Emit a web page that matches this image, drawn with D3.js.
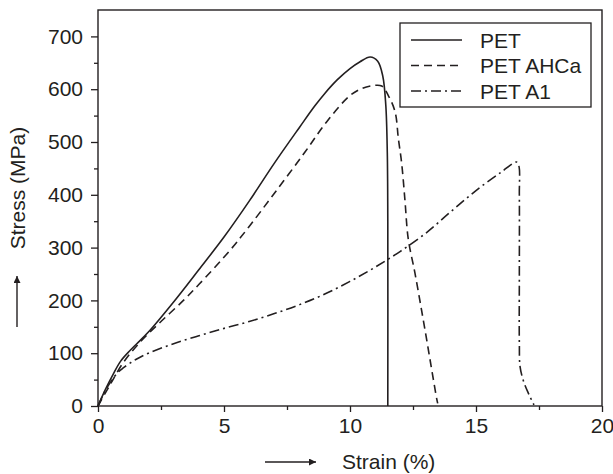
<!DOCTYPE html>
<meta charset="utf-8">

<head>
    <script src="https://d3js.org/d3.v7.min.js"></script>
    <style>
        body {
            margin: 0;
            background: white;
        }
        text {
            font-family: "Liberation Sans", Arial, sans-serif;
            fill: #231f20;
        }
    </style>
</head>

<body>
    <div id="chart"></div>

    <script>
        // data
        var petStrain = [0, 0.3, 0.61, 0.9, 1.27, 1.54, 2, 3, 4, 5, 6, 7, 8, 8.6, 9, 9.5, 10, 10.4, 10.8, 11.1, 11.3, 11.42, 11.48, 11.5, 11.5];
        var petStress = [0, 32, 61, 85, 105, 118, 140, 197, 258, 320, 388, 460, 528, 568, 592, 618, 639, 652, 661, 653, 625, 570, 480, 350, 0];

        var ahcaStrain = [0, 0.5, 1, 1.67, 2.5, 3.39, 4, 5.24, 6, 7, 8.2, 9.07, 10, 10.5, 10.93, 11.26, 11.52, 11.79, 11.92, 12.05, 12.18, 12.31, 12.58, 12.98, 13.44, 13.48];
        var ahcaStress = [0, 42, 82, 121, 160, 200, 230, 295, 340, 403, 480, 538, 588, 602, 607, 606, 588, 557, 506, 460, 390, 317, 251, 143, 14, 5];

        var a1Strain = [0, 0.3, 0.74, 1, 1.5, 2, 3, 4, 5, 6, 7, 8, 9, 10, 11, 12, 13, 14, 15, 16, 16.61, 16.7, 16.72, 16.72, 16.72, 16.75, 16.9, 17.1, 17.3];
        var a1Stress = [0, 30, 61, 72, 88, 100, 118, 133, 147, 160, 175, 192, 212, 236, 263, 293, 327, 368, 408, 443, 462, 455, 400, 250, 120, 74, 45, 22, 2];

        var seriesNames = ["PET", "PET AHCa", "PET A1"];
        var yTicks = [0, 100, 200, 300, 400, 500, 600, 700];
        var yMinorTicks = [50, 150, 250, 350, 450, 550, 650];
        var xTicks = [0, 5, 10, 15, 20];
        var xMinorTicks = [2.5, 7.5, 12.5, 17.5];

        var ink = "#231f20";
        var width = 613,
            height = 474;
        var margin = {
            top: 10,
            right: 11,
            bottom: 68,
            left: 98
        };
        var plotW = width - margin.left - margin.right,
            plotH = height - margin.top - margin.bottom;

        var svg = d3.select("#chart").append("svg")
            .attr("width", width)
            .attr("height", height);

        var g = svg.append("g")
            .attr("transform", "translate(" + margin.left + "," + margin.top + ")");

        var x = d3.scaleLinear().domain([0, 20]).range([0, plotW]);
        var y = d3.scaleLinear().domain([0, 750]).range([plotH, 0]);

        // axes with major + minor ticks
        function styleAxis(sel) {
            sel.select(".domain").remove();
            sel.selectAll("line").attr("stroke", ink).attr("stroke-width", 1.3);
            sel.selectAll("text").style("font-size", "21px").attr("fill", ink);
        }

        g.append("g")
            .attr("transform", "translate(0," + plotH + ")")
            .call(d3.axisBottom(x).tickValues(xTicks).tickSize(6).tickPadding(6).tickFormat(d3.format("d")))
            .call(styleAxis);
        g.append("g")
            .attr("transform", "translate(0," + plotH + ")")
            .call(d3.axisBottom(x).tickValues(xMinorTicks).tickSize(4).tickFormat(""))
            .call(styleAxis);
        g.append("g")
            .call(d3.axisLeft(y).tickValues(yTicks).tickSize(7).tickPadding(8).tickFormat(d3.format("d")))
            .call(styleAxis);
        g.append("g")
            .call(d3.axisLeft(y).tickValues(yMinorTicks).tickSize(4).tickFormat(""))
            .call(styleAxis);

        // frame
        g.append("rect")
            .attr("x", 0)
            .attr("y", 0)
            .attr("width", plotW)
            .attr("height", plotH)
            .attr("fill", "none")
            .attr("stroke", ink)
            .attr("stroke-width", 1.4);

        // curves
        var dashes = ["none", "8,5", "10,4,2,4"];
        var series = [
            d3.zip(petStrain, petStress),
            d3.zip(ahcaStrain, ahcaStress),
            d3.zip(a1Strain, a1Stress)
        ];
        var line = d3.line()
            .x(function(d) { return x(d[0]); })
            .y(function(d) { return y(d[1]); })
            .curve(d3.curveCatmullRom.alpha(0.5));

        g.selectAll(".curve")
            .data(series)
            .enter()
            .append("path")
            .attr("class", "curve")
            .attr("d", line)
            .attr("fill", "none")
            .attr("stroke", ink)
            .attr("stroke-width", 1.6)
            .attr("stroke-dasharray", function(d, i) { return dashes[i]; });

        // legend
        var legend = svg.append("g").attr("transform", "translate(400,23)");
        legend.append("rect")
            .attr("width", 191)
            .attr("height", 84)
            .attr("fill", "white")
            .attr("stroke", ink)
            .attr("stroke-width", 1.3);
        seriesNames.forEach(function(name, i) {
            var ly = 17 + i * 25.5;
            legend.append("line")
                .attr("x1", 11)
                .attr("x2", 62)
                .attr("y1", ly)
                .attr("y2", ly)
                .attr("stroke", ink)
                .attr("stroke-width", 1.6)
                .attr("stroke-dasharray", dashes[i]);
            legend.append("text")
                .attr("x", 80)
                .attr("y", ly)
                .attr("dy", "0.36em")
                .style("font-size", "21px")
                .text(name);
        });

        // axis titles with arrows
        svg.append("defs").append("marker")
            .attr("id", "arrow")
            .attr("viewBox", "0 0 10 10")
            .attr("refX", 10)
            .attr("refY", 5)
            .attr("markerWidth", 7)
            .attr("markerHeight", 7)
            .attr("markerUnits", "userSpaceOnUse")
            .attr("orient", "auto")
            .append("path")
            .attr("d", "M0,0L10,5L0,10z")
            .attr("fill", ink);

        svg.append("line")
            .attr("x1", 265).attr("x2", 316)
            .attr("y1", 462).attr("y2", 462)
            .attr("stroke", ink)
            .attr("stroke-width", 1.4)
            .attr("marker-end", "url(#arrow)");
        svg.append("text")
            .attr("x", 342)
            .attr("y", 469)
            .style("font-size", "21px")
            .text("Strain (%)");

        svg.append("line")
            .attr("x1", 17).attr("x2", 17)
            .attr("y1", 327).attr("y2", 276)
            .attr("stroke", ink)
            .attr("stroke-width", 1.4)
            .attr("marker-end", "url(#arrow)");
        svg.append("text")
            .attr("transform", "translate(25,188) rotate(-90)")
            .attr("text-anchor", "middle")
            .style("font-size", "21px")
            .text("Stress (MPa)");
    </script>
</body>

</html>
